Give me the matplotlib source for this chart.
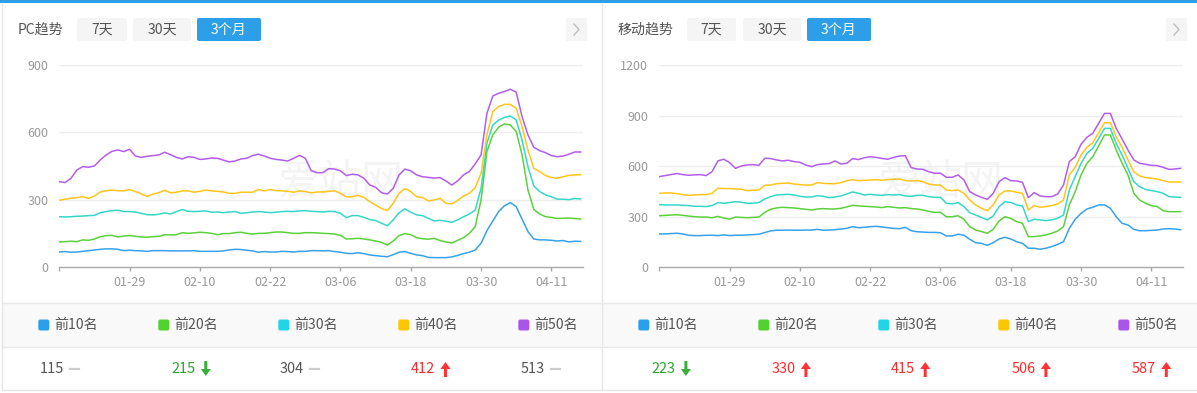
import matplotlib
matplotlib.use('Agg')
import matplotlib.pyplot as plt
from matplotlib.patches import Rectangle, FancyBboxPatch, FancyArrow
import pandas as pd

plt.rcParams['font.family'] = ['Noto Sans CJK SC', 'DejaVu Sans']

# daily categories 01-17 .. 04-16
dates = pd.date_range('2019-01-17', '2019-04-16')
day_labels = list(dates.strftime('%m-%d'))
names = ['前10名', '前20名', '前30名', '前40名', '前50名']

# PC trend
pc_top10 = [68, 70, 67, 68, 71, 74, 77, 80, 82, 82,
            80, 74, 76, 74, 73, 71, 74, 74, 74, 73,
            73, 73, 73, 74, 71, 71, 71, 71, 73, 77,
            80, 79, 76, 73, 67, 70, 68, 68, 71, 70,
            68, 71, 71, 74, 74, 73, 74, 70, 67, 62,
            61, 65, 61, 55, 52, 49, 47, 56, 67, 70,
            62, 55, 52, 44, 43, 43, 43, 46, 53, 61,
            67, 77, 107, 163, 206, 248, 274, 288, 270, 214,
            159, 126, 122, 122, 120, 117, 119, 113, 116, 115]
pc_top20 = [113, 114, 116, 114, 122, 120, 126, 136, 141, 142,
            135, 139, 141, 138, 135, 134, 136, 138, 145, 144,
            145, 154, 151, 153, 156, 154, 151, 145, 150, 150,
            154, 156, 151, 148, 151, 151, 154, 157, 157, 154,
            151, 151, 154, 154, 153, 151, 150, 148, 142, 126,
            127, 129, 126, 122, 117, 111, 99, 117, 141, 150,
            145, 132, 127, 125, 129, 119, 113, 108, 120, 132,
            151, 181, 300, 515, 589, 623, 638, 633, 604, 500,
            344, 258, 237, 225, 222, 217, 218, 219, 217, 215]
pc_top30 = [225, 224, 225, 227, 228, 230, 231, 243, 248, 252,
            254, 248, 248, 246, 240, 234, 233, 236, 242, 237,
            248, 257, 249, 248, 249, 251, 245, 246, 243, 246,
            248, 240, 243, 246, 248, 246, 243, 245, 248, 249,
            248, 251, 252, 249, 248, 246, 249, 248, 240, 221,
            230, 230, 222, 212, 208, 196, 185, 211, 243, 260,
            245, 233, 230, 218, 206, 209, 205, 200, 211, 225,
            237, 255, 351, 552, 633, 655, 667, 673, 655, 566,
            448, 362, 337, 322, 314, 303, 303, 301, 306, 304]
pc_top40 = [298, 303, 307, 310, 314, 307, 317, 335, 341, 343,
            341, 340, 346, 337, 326, 316, 326, 332, 343, 331,
            334, 340, 340, 334, 338, 344, 340, 338, 335, 329,
            329, 334, 334, 334, 346, 340, 346, 341, 340, 338,
            334, 340, 337, 331, 335, 335, 338, 340, 329, 313,
            314, 320, 311, 292, 277, 262, 252, 285, 329, 350,
            337, 314, 311, 295, 300, 307, 285, 282, 297, 317,
            329, 354, 418, 589, 693, 715, 725, 725, 707, 626,
            522, 440, 426, 408, 400, 396, 403, 409, 411, 412]
pc_top50 = [381, 377, 396, 433, 448, 445, 451, 478, 500, 516,
            522, 515, 525, 495, 489, 494, 497, 500, 512, 501,
            489, 482, 492, 489, 480, 482, 486, 485, 477, 469,
            473, 482, 485, 497, 503, 495, 485, 480, 477, 473,
            485, 498, 485, 430, 421, 421, 439, 437, 429, 408,
            414, 411, 396, 366, 356, 332, 326, 351, 411, 437,
            429, 411, 403, 400, 397, 399, 384, 366, 384, 411,
            426, 460, 500, 685, 762, 774, 782, 792, 779, 670,
            589, 534, 519, 510, 497, 492, 495, 503, 513, 513]

# mobile trend
mob_top10 = [198, 198, 200, 202, 198, 190, 188, 188, 190, 190,
             188, 192, 188, 190, 190, 192, 194, 196, 206, 216,
             220, 220, 221, 220, 220, 221, 221, 225, 220, 221,
             223, 227, 231, 241, 235, 237, 241, 243, 239, 235,
             231, 229, 237, 217, 211, 209, 207, 207, 205, 186,
             186, 196, 190, 166, 146, 142, 130, 146, 168, 178,
             168, 152, 142, 113, 113, 107, 113, 123, 136, 152,
             231, 285, 320, 346, 356, 370, 370, 350, 300, 261,
             251, 225, 217, 217, 219, 221, 227, 229, 227, 223]
mob_top20 = [306, 308, 310, 312, 308, 304, 300, 298, 298, 294,
             302, 292, 286, 298, 296, 294, 296, 298, 326, 344,
             352, 356, 354, 352, 348, 344, 340, 346, 348, 346,
             346, 350, 358, 368, 364, 362, 360, 358, 354, 360,
             356, 352, 354, 348, 346, 340, 332, 326, 326, 300,
             300, 306, 285, 241, 221, 212, 202, 225, 275, 300,
             290, 271, 261, 182, 182, 186, 192, 202, 215, 241,
             370, 449, 548, 617, 656, 720, 785, 785, 696, 617,
             548, 439, 399, 380, 366, 360, 336, 330, 330, 330]
mob_top30 = [372, 370, 370, 370, 368, 366, 362, 362, 360, 366,
             384, 380, 384, 389, 386, 380, 380, 384, 405, 419,
             429, 431, 433, 429, 421, 417, 417, 425, 421, 413,
             417, 423, 435, 447, 439, 429, 433, 429, 427, 431,
             429, 431, 423, 421, 427, 427, 419, 415, 415, 380,
             376, 384, 360, 324, 310, 296, 281, 304, 360, 389,
             385, 370, 364, 271, 285, 281, 277, 281, 291, 310,
             459, 538, 617, 676, 706, 765, 824, 824, 735, 666,
             587, 508, 478, 462, 455, 449, 439, 419, 417, 415]
mob_top40 = [439, 441, 441, 437, 431, 427, 429, 431, 431, 439,
             469, 467, 467, 465, 463, 455, 457, 459, 486, 488,
             496, 498, 500, 494, 490, 488, 488, 502, 498, 496,
             496, 502, 514, 520, 514, 516, 518, 520, 516, 520,
             522, 524, 514, 512, 514, 508, 494, 488, 488, 459,
             455, 459, 439, 399, 370, 350, 336, 370, 429, 453,
             453, 445, 439, 340, 366, 356, 360, 366, 376, 399,
             548, 593, 666, 712, 739, 799, 858, 858, 775, 712,
             637, 567, 542, 532, 528, 524, 514, 506, 506, 506]
mob_top50 = [538, 544, 550, 556, 550, 546, 548, 550, 544, 567,
             631, 641, 621, 587, 601, 607, 609, 605, 647, 645,
             637, 631, 635, 627, 623, 607, 597, 609, 613, 615,
             631, 613, 617, 645, 639, 650, 656, 652, 646, 641,
             652, 660, 662, 591, 583, 581, 567, 558, 558, 534,
             534, 548, 518, 449, 429, 415, 403, 439, 508, 532,
             514, 512, 504, 413, 443, 423, 419, 419, 435, 488,
             627, 656, 730, 771, 795, 854, 913, 913, 824, 761,
             696, 637, 617, 611, 605, 603, 593, 581, 583, 587]

pc_latest = [115, 215, 304, 412, 513]
pc_trend = ['flat', 'down', 'flat', 'up', 'flat']
mob_latest = [223, 330, 415, 506, 587]
mob_trend = ['down', 'up', 'up', 'up', 'up']

line_colors = ['#37a2eb', '#5cd13b', '#35d8c8', '#ffc51c', '#b35eea']
key_colors = ['#2ba0ea', '#52d22e', '#22d5e6', '#fdc600', '#a855ea']

W, H = 1197, 393
fig = plt.figure(figsize=(W / 100, H / 100), dpi=100)
fig.patch.set_facecolor('white')

bg = fig.add_axes([0, 0, 1, 1])
bg.set_xlim(0, W)
bg.set_ylim(H, 0)
bg.axis('off')


def pt(px):
    return px * 0.72


panels = [
    dict(off=0, title='PC趋势',
         series=[pc_top10, pc_top20, pc_top30, pc_top40, pc_top50],
         yticks=[0, 300, 600, 900], latest=pc_latest, trend=pc_trend,
         buttons=[(77, 127), (133, 191), (197, 261)],
         value_x=[39.5, 171.3, 279.7, 411, 521]),
    dict(off=600, title='移动趋势',
         series=[mob_top10, mob_top20, mob_top30, mob_top40, mob_top50],
         yticks=[0, 300, 600, 900, 1200], latest=mob_latest, trend=mob_trend,
         buttons=[(687, 736), (743, 801), (807, 871)],
         value_x=[651.4, 771.4, 890.7, 1011.4, 1131.8]),
]

# top blue bar
bg.add_patch(Rectangle((0, 0), W, 2.5, color='#2d9fe8', lw=0))

for p in panels:
    off = p['off']
    # panel frame
    bg.plot([off + 2, off + 2], [3, 390], color='#e6e6e6', lw=1)
    bg.plot([off + 2, off + 601], [390, 390], color='#e6e6e6', lw=1)
    bg.add_patch(Rectangle((off + 2, 303), 599, 44, fc='#f9f9f9', ec='none'))
    bg.plot([off + 2, off + 601], [303, 303], color='#e8e8e8', lw=1)
    bg.plot([off + 2, off + 601], [347, 347], color='#e8e8e8', lw=1)

    # header
    bg.text(off + 18, 29.5, p['title'], fontsize=pt(14), color='#555555',
            va='center', ha='left')
    for (x0, x1), lab, active in zip(p['buttons'], ['7天', '30天', '3个月'],
                                     [False, False, True]):
        bg.add_patch(FancyBboxPatch((x0, 18), x1 - x0, 23,
                                    boxstyle='round,pad=0,rounding_size=2',
                                    fc='#2d9fe8' if active else '#f5f5f5',
                                    ec='none'))
        bg.text((x0 + x1) / 2, 29.5, lab, fontsize=pt(14),
                color='white' if active else '#555555',
                ha='center', va='center')
    ax0 = off + 566
    bg.add_patch(Rectangle((ax0, 18), 21, 23, fc='#f5f5f5', ec='none'))
    bg.plot([ax0 + 8, ax0 + 13, ax0 + 8], [24, 29.5, 35], color='#bdbdbd', lw=1)

    # watermark
    bg.text(off + 340, 183, '爱站网', fontsize=pt(42), color='#f4f4f4',
            ha='center', va='center', zorder=0)

    # legend row
    for i, (nm, c) in enumerate(zip(names, key_colors)):
        kx = off + 38.3 + 120 * i
        bg.add_patch(FancyBboxPatch((kx, 319.5), 11, 11,
                                    boxstyle='round,pad=0,rounding_size=2',
                                    fc=c, ec='none'))
        bg.text(kx + 15.5, 325, nm, fontsize=pt(14), color='#555555',
                ha='left', va='center')

    # latest values row
    for x, v, t in zip(p['value_x'], p['latest'], p['trend']):
        tc = {'flat': '#555555', 'down': '#2aa52a', 'up': '#ff2b2b'}[t]
        bg.text(x, 369, str(v), fontsize=pt(14.5), color=tc,
                ha='left', va='center')
        cx = x + 34.5
        if t == 'flat':
            bg.plot([cx - 4.5, cx + 4.5], [369, 369], color='#cccccc', lw=1.6)
        elif t == 'up':
            bg.add_patch(FancyArrow(cx, 377, 0, -15, width=3, head_width=10,
                                    head_length=7, length_includes_head=True,
                                    color='#ff3333', lw=0))
        else:
            bg.add_patch(FancyArrow(cx, 361, 0, 15, width=3, head_width=10,
                                    head_length=7, length_includes_head=True,
                                    color='#38b038', lw=0))

    # chart area
    left, right, top, bottom = off + 59.3, off + 583, 65, 267.3
    ax = fig.add_axes([left / W, 1 - bottom / H, (right - left) / W,
                       (bottom - top) / H])
    ax.set_facecolor('none')
    xs = range(len(day_labels))
    for s, c in zip(p['series'], line_colors):
        ax.plot(xs, s, color=c, lw=1.1, solid_joinstyle='round')
    ax.set_xlim(0, 89.4)
    ax.set_ylim(0, p['yticks'][-1])
    ax.set_yticks(p['yticks'])
    ax.yaxis.grid(True, color='#eeeeee', lw=1)
    ax.set_axisbelow(True)
    tick_pos = list(range(0, len(day_labels), 12))
    ax.set_xticks(tick_pos)
    ax.set_xticklabels(['' if i == 0 else day_labels[i] for i in tick_pos])
    for side in ['top', 'right', 'left']:
        ax.spines[side].set_visible(False)
    ax.spines['bottom'].set_color('#aaaaaa')
    ax.spines['bottom'].set_linewidth(1)
    ax.tick_params(axis='y', length=0, pad=8, labelsize=pt(12.5),
                   labelcolor='#999999')
    ax.tick_params(axis='x', length=3, width=1, color='#aaaaaa', pad=3,
                   labelsize=pt(12.5), labelcolor='#999999')

fig.savefig('out.png', dpi=100, facecolor='white')
